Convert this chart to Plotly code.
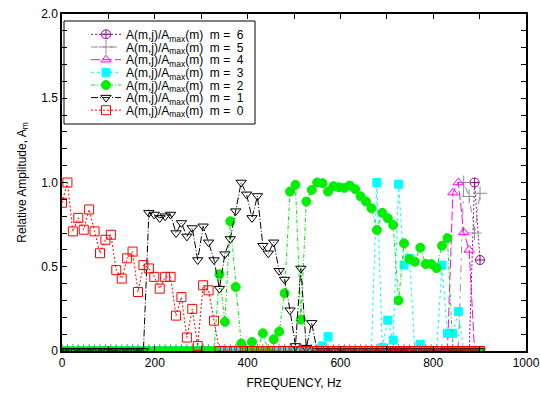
import plotly.graph_objects as go

# Frequency grid (Hz)
freq = [0.0, 11.7, 23.4, 35.1, 46.8, 58.5, 70.2, 81.9, 93.6, 105.3,
        117.0, 128.7, 140.4, 152.1, 163.8, 175.5, 187.2, 198.9, 210.6, 222.3,
        234.0, 245.7, 257.4, 269.1, 280.8, 292.5, 304.2, 315.9, 327.6, 339.3,
        351.0, 362.7, 374.4, 386.1, 397.8, 409.5, 421.2, 432.9, 444.6, 456.3,
        468.0, 479.7, 491.4, 503.1, 514.8, 526.5, 538.2, 549.9, 561.6, 573.3,
        585.0, 596.7, 608.4, 620.1, 631.8, 643.5, 655.2, 666.9, 678.6, 690.3,
        702.0, 713.7, 725.4, 737.1, 748.8, 760.5, 772.2, 783.9, 795.6, 807.3,
        819.0, 830.7, 842.4, 854.1, 865.8, 877.5, 889.2, 900.9]

amp_m0 = [0.88, 1.00, 0.71, 0.79, 0.72, 0.84, 0.71, 0.58, 0.66, 0.69,
          0.48, 0.43, 0.55, 0.59, 0.35, 0.51, 0.49, 0.44, 0.37, 0.44,
          0.44, 0.21, 0.32, 0.08, 0.25, 0.03, 0.39, 0.36, 0.18, 0,
          0, 0, 0, 0, 0, 0, 0, 0, 0, 0,
          0, 0, 0, 0, 0, 0, 0, 0, 0, 0,
          0, 0, 0, 0, 0, 0, 0, 0, 0, 0,
          0, 0, 0, 0, 0, 0, 0, 0, 0, 0,
          0, 0, 0, 0, 0, 0, 0, 0]

amp_m1 = [0, 0, 0, 0, 0, 0, 0, 0, 0, 0,
          0, 0, 0, 0, 0, 0, 0.82, 0.81, 0.79, 0.80,
          0.81, 0.70, 0.76, 0.68, 0.73, 0.54, 0.74, 0.645, 0.54, 0.37,
          0.575, 0.665, 0.83, 1.00, 0.93, 0.79, 0.92, 0.625, 0.58, 0.645,
          0.476, 0.424, 0.242, 0.03, 0.49, 0.02, 0.167, 0, 0, 0,
          0, 0, 0, 0, 0, 0, 0, 0, 0, 0,
          0, 0, 0, 0, 0, 0, 0, 0, 0, 0,
          0, 0, 0, 0, 0, 0, 0, 0]

amp_m2 = [0, 0, 0, 0, 0, 0, 0, 0, 0, 0,
          0, 0, 0, 0, 0, 0, 0, 0, 0, 0,
          0, 0, 0, 0, 0, 0, 0, 0, 0, 0.456,
          0.173, 0.77, 0.38, 0.044, 0, 0.054, 0, 0.105, 0, 0.07,
          0.115, 0.343, 0.946, 0.986, 0.186, 0.887, 0.956, 1.00, 0.996, 0.946,
          0.978, 0.972, 0.968, 0.982, 0.96, 0.918, 0.887, 0.847, 0.718, 0.82,
          0.788, 0.748, 0.30, 0.639, 0.545, 0.53, 0.613, 0.516, 0.516, 0.492,
          0.625, 0.67, 0, 0, 0, 0, 0, 0]

amp_m3 = [0, 0, 0, 0, 0, 0, 0, 0, 0, 0,
          0, 0, 0, 0, 0, 0, 0, 0, 0, 0,
          0, 0, 0, 0, 0, 0, 0, 0, 0, 0,
          0, 0, 0, 0, 0, 0, 0, 0, 0, 0,
          0, 0, 0, 0, 0, 0, 0, 0, 0.03, 0.085,
          0, 0, 0, 0, 0, 0, 0, 0, 1.00, 0.02,
          0.183, 0.065, 0.99, 0.51, 0.55, 0, 0.04, 0, 0, 0,
          0.51, 0.105, 0.105, 0.234, 0, 0, 0, 0]

amp_m4 = [0, 0, 0, 0, 0, 0, 0, 0, 0, 0,
          0, 0, 0, 0, 0, 0, 0, 0, 0, 0,
          0, 0, 0, 0, 0, 0, 0, 0, 0, 0,
          0, 0, 0, 0, 0, 0, 0, 0, 0, 0,
          0, 0, 0, 0, 0, 0, 0, 0, 0, 0,
          0, 0, 0, 0, 0, 0, 0, 0, 0, 0,
          0, 0, 0, 0, 0, 0, 0, 0, 0, 0,
          0, 0, 0.94, 1.00, 0.704, 0.60, 0, 0]

amp_m5 = [0, 0, 0, 0, 0, 0, 0, 0, 0, 0,
          0, 0, 0, 0, 0, 0, 0, 0, 0, 0,
          0, 0, 0, 0, 0, 0, 0, 0, 0, 0,
          0, 0, 0, 0, 0, 0, 0, 0, 0, 0,
          0, 0, 0, 0, 0, 0, 0, 0, 0, 0,
          0, 0, 0, 0, 0, 0, 0, 0, 0, 0,
          0, 0, 0, 0, 0, 0, 0, 0, 0, 0,
          0, 0, 0, 0, 1.00, 0.917, 0.70, 0.936]

amp_m6 = [0, 0, 0, 0, 0, 0, 0, 0, 0, 0,
          0, 0, 0, 0, 0, 0, 0, 0, 0, 0,
          0, 0, 0, 0, 0, 0, 0, 0, 0, 0,
          0, 0, 0, 0, 0, 0, 0, 0, 0, 0,
          0, 0, 0, 0, 0, 0, 0, 0, 0, 0,
          0, 0, 0, 0, 0, 0, 0, 0, 0, 0,
          0, 0, 0, 0, 0, 0, 0, 0, 0, 0,
          0, 0, 0, 0, 0, 0, 1.00, 0.54]

mode_labels = ["6", "5", "4", "3", "2", "1", "0"]
x_tick_vals = [0, 200, 400, 600, 800, 1000]
x_tick_text = ["0", "200", "400", "600", "800", "1000"]
y_tick_vals = [0, 0.5, 1.0, 1.5, 2.0]
y_tick_text = ["0", "0.5", "1.0", "1.5", "2.0"]

series = [amp_m6, amp_m5, amp_m4, amp_m3, amp_m2, amp_m1, amp_m0]
styles = [
    dict(color="#8b0a8b", dash="2px,2px", symbol="circle-cross-open", size=9),
    dict(color="#8c8c8c", dash="7px,5px,2px,5px", symbol="cross-thin-open", size=10),
    dict(color="#ff00ff", dash="9px,3px", symbol="triangle-up-open", size=9),
    dict(color="#00ffff", dash="3px,3px", symbol="square", size=8),
    dict(color="#00ee00", dash="4px,2px,1px,2px", symbol="circle", size=9),
    dict(color="#000000", dash="7px,2px,1px,2px", symbol="triangle-down-open", size=9),
    dict(color="#ff0000", dash="2px,2px", symbol="square-open", size=9),
]

row_centers_px = [34.3, 47.0, 59.7, 72.3, 85.0, 97.6, 110.2]
plot_left, plot_right = 62, 526
plot_top, plot_bottom = 14, 351
plot_w = plot_right - plot_left
plot_h = plot_bottom - plot_top

fig = go.Figure()
legend_layout = {}
nb = "\u00a0"
for i, (vals, st, lab) in enumerate(zip(series, styles, mode_labels)):
    lname = "legend" if i == 0 else f"legend{i+1}"
    fig.add_trace(go.Scatter(
        x=freq, y=vals, mode="lines+markers",
        name=f"A(m,j)/A<sub>max</sub>(m){nb}{nb}m{nb}={nb}{nb}{lab}",
        line=dict(color=st["color"], width=1, dash=st["dash"]),
        marker=dict(symbol=st["symbol"], size=st["size"], color=st["color"],
                    line=dict(color=st["color"], width=1)),
        legend=lname,
    ))
    legend_layout[lname] = dict(
        x=(86 - plot_left) / plot_w, xanchor="left",
        y=(plot_bottom - row_centers_px[i]) / plot_h, yanchor="middle",
        bgcolor="rgba(0,0,0,0)", borderwidth=0,
        font=dict(size=12, color="black"), tracegroupgap=0,
    )

fig.update_layout(**legend_layout)

fig.add_shape(type="rect", xref="paper", yref="paper",
              x0=(64 - plot_left) / plot_w, x1=(255 - plot_left) / plot_w,
              y0=(plot_bottom - 124) / plot_h, y1=(plot_bottom - 21) / plot_h,
              line=dict(color="black", width=1), fillcolor="white", layer="below")

axis_common = dict(
    ticks="inside", ticklen=5, tickwidth=1, tickcolor="black",
    showline=True, linecolor="black", linewidth=1.5, mirror="ticks",
    showgrid=False, zeroline=False, automargin=False,
    tickfont=dict(size=12, color="black"),
)

fig.update_layout(
    width=540, height=394,
    margin=dict(l=plot_left, r=540 - plot_right, t=plot_top, b=394 - plot_bottom),
    paper_bgcolor="white", plot_bgcolor="white",
    font=dict(family="Liberation Sans, Arial, sans-serif", size=12, color="black"),
    showlegend=True,
    xaxis=dict(range=[0, 1000], tickvals=x_tick_vals, ticktext=x_tick_text,
               minor=dict(dtick=100, tick0=0, ticks="inside", ticklen=5, tickcolor="black"),
               title=dict(text="FREQUENCY, Hz", standoff=9, font=dict(size=12)),
               **axis_common),
    yaxis=dict(range=[0, 2], tickvals=y_tick_vals, ticktext=y_tick_text,
               minor=dict(dtick=0.1, tick0=0, ticks="inside", ticklen=5, tickcolor="black"),
               title=dict(text="Relative Amplitude, A<sub>m</sub>", standoff=12, font=dict(size=12)),
               **axis_common),
)

fig.write_html("out.html")
